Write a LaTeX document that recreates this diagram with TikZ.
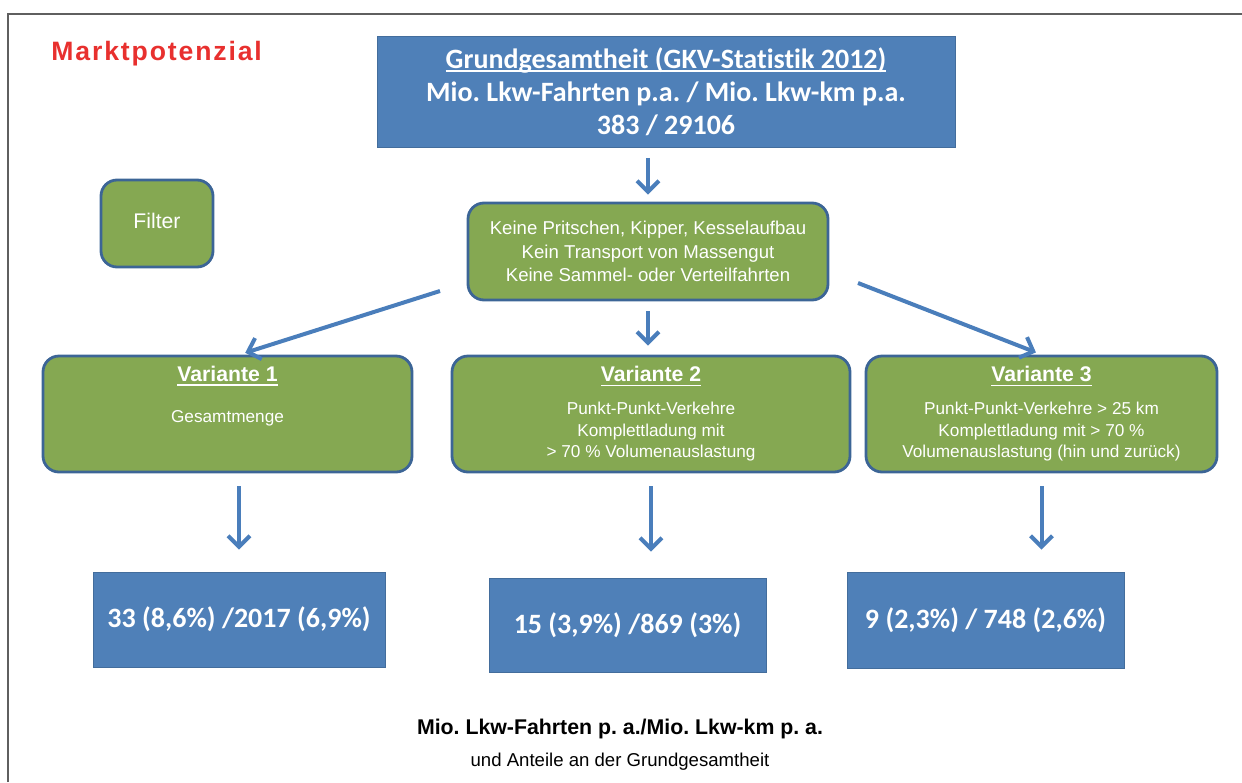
\documentclass[tikz,border=0pt]{standalone}
\usepackage{fontspec}
\setmainfont{Liberation Sans}
\newfontfamily\calfont[Ligatures=NoCommon]{Carlito}
\usetikzlibrary{arrows.meta}
\definecolor{boxblue}{HTML}{4F80B8}
\definecolor{boxgreen}{HTML}{85A852}
\definecolor{rimblue}{HTML}{3C6596}
\definecolor{arrowblue}{HTML}{4A7EBB}
\definecolor{titlered}{HTML}{E8302E}
\definecolor{framegray}{HTML}{5F5F5F}
\newcommand\ultext[2][-2pt]{\setbox0\hbox{#2}\rlap{\rule[#1]{\wd0}{0.8pt}}\box0}
\newcommand\vtitle[1]{{\bfseries\fontsize{10.6}{13}\selectfont\ultext[-2.2pt]{#1}}}
\frenchspacing
\begin{document}
\begin{tikzpicture}[x=0.5pt, y=-0.5pt,
    bluebox/.style={fill=boxblue, draw=boxblue!85!black, line width=0.4pt, text=white, align=center},
    greenbox/.style={fill=boxgreen, draw=rimblue, line width=1.4pt, rounded corners=8pt, text=white, align=center},
    varbox/.style={greenbox, minimum height=58pt, font=\fontsize{8.6}{10.75}\selectfont},
    resbox/.style={bluebox, font=\calfont\bfseries\fontsize{14}{16}\selectfont},
    arr/.style={draw=arrowblue, line width=2pt, -{Straight Barb[length=5.5pt,width=11pt]}}]
    \useasboundingbox (0,0) rectangle (1242,782);
    % Frame
    \draw[framegray, line width=1pt] (8,782) -- (8,14) -- (1242,14);
    \node[anchor=west, inner sep=0pt, text=titlered, font=\bfseries\fontsize{13.3}{16}\selectfont] (head) at (51,54) {\addfontfeature{LetterSpace=7}Marktpotenzial};
    % Population
    \node[bluebox, minimum width=289pt, minimum height=55.5pt, font=\calfont\bfseries\fontsize{14}{16.5}\selectfont] (grund) at (666,92)
        {\ultext[-1.5pt]{Grundgesamtheit (GKV-Statistik 2012)}\\Mio. Lkw-Fahrten p.a. / Mio. Lkw-km p.a.\\383 / 29106};
    % Filters
    \node[greenbox, minimum width=56pt, minimum height=43.5pt, font=\fontsize{10.6}{13}\selectfont] (filter) at (157,223.5) {\raisebox{2.5pt}{Filter}};
    \node[greenbox, minimum width=180pt, minimum height=48.5pt, font=\fontsize{9.3}{11.75}\selectfont] (crit) at (648,251.5)
        {Keine Pritschen, Kipper, Kesselaufbau\\Kein Transport von Massengut\\Keine Sammel- oder Verteilfahrten};
    % Variants
    \node[varbox, minimum width=184.5pt] (v1) at (227.5,414)
        {\vtitle{Variante 1}\\[9.75pt]Gesamtmenge\\[6pt]\strut};
    \node[varbox, minimum width=199pt] (v2) at (651,414)
        {\vtitle{Variante 2}\\[5.75pt]Punkt-Punkt-Verkehre\\Komplettladung mit\\> 70 \% Volumenauslastung};
    \node[varbox, minimum width=175.5pt] (v3) at (1041.5,414)
        {\vtitle{Variante 3}\\[5.75pt]Punkt-Punkt-Verkehre > 25 km\\Komplettladung mit > 70 \%\\Volumenauslastung (hin und zurück)};
    % Results
    \node[resbox, minimum width=146pt, minimum height=47.5pt] (r1) at (239,619.5) {33 (8,6\%) /2017 (6,9\%)};
    \node[resbox, minimum width=138.5pt, minimum height=47pt] (r2) at (627.5,625) {15 (3,9\%) /869 (3\%)};
    \node[resbox, minimum width=138.5pt, minimum height=48pt] (r3) at (985.5,620) {9 (2,3\%) / 748 (2,6\%)};
    % Arrows
    \coordinate (a1) at (440,291);
    \coordinate (a3) at (858,283);
    \draw[arr, shorten <=5pt, shorten >=3.5pt] (crit.north |- grund.south) -- (crit.north);
    \draw[arr, shorten >=3pt] (a1) -- ([xshift=6pt]v1.north);
    \draw[arr, shorten <=5pt, shorten >=4.5pt] (crit.south) -- (crit.south |- v2.north);
    \draw[arr, shorten >=3pt] (a3) -- (v3.north);
    \draw[arr, shorten <=6.5pt, shorten >=11pt] (r1.north |- v1.south) -- (r1.north);
    \draw[arr, shorten <=6.5pt, shorten >=13pt] (v2.south) -- (v2.south |- r2.north);
    \draw[arr, shorten <=6.5pt, shorten >=11pt] (v3.south) -- (v3.south |- r3.north);
    % Legend text
    \node[font=\bfseries\fontsize{10.65}{13}\selectfont] (unit) at (620,729) {Mio. Lkw-Fahrten p. a./Mio. Lkw-km p. a.};
    \node[font=\fontsize{9.3}{11}\selectfont] (share) at (620,762) {und Anteile an der Grundgesamtheit};
\end{tikzpicture}
\end{document}
